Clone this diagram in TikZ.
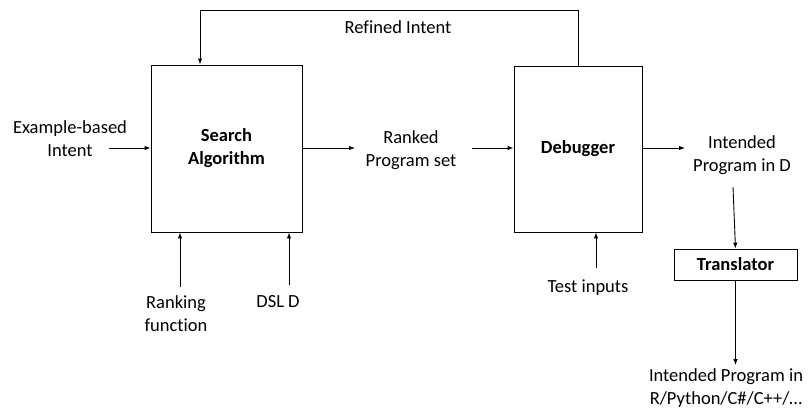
\documentclass[tikz,border=0pt]{standalone}
\usepackage{fontspec}
\setmainfont{Carlito}[Ligatures={NoCommon}]
\usetikzlibrary{arrows.meta,positioning,calc}

\begin{document}
\begin{tikzpicture}[x=1pt, y=-1pt, line width=0.9pt,
  font=\fontsize{18.5}{23}\selectfont,
  block/.style={draw, rectangle, font=\fontsize{18.5}{23}\selectfont\bfseries, align=center},
  txt/.style={align=center, inner sep=3pt},
  arr/.style={-{Latex[length=6pt,width=4.5pt]}}]
  \useasboundingbox (0,0) rectangle (809,408);
  % main blocks
  \node[block, minimum width=151pt, minimum height=167pt] (search) at (226.5,148.5) {Search\\ Algorithm};
  \node[block, minimum width=128pt, minimum height=166pt] (debug) at (578,149) {Debugger};
  \node[block, minimum width=123pt, minimum height=31pt, inner sep=2pt] (transl) at (735.5,264.5) {Translator};
  % labels
  \node[txt] (example) at (70,138.5) {Example-based\\ Intent};
  \node[txt] (ranked) at (411,150) {Ranked\\ Program set};
  \node[txt] (intended) at (742,155) {Intended\\ Program in D};
  \node[txt] (final) at (726,388) {Intended Program in\\ R/Python/C\#/C++/\dots};
  \node[txt] (rankfn) at (176,314) {Ranking\\ function};
  \node[txt] (dsl) at (278,302) {DSL D};
  \node[txt] (tests) at (588,288) {Test inputs};
  \node[txt] (refined) at (398,27) {Refined Intent};
  % free ends
  \coordinate (exin) at (109,148);
  \coordinate (rsout) at (472,148);
  \coordinate (trin) at (733,187);
  \coordinate (rkin) at (180,287);
  \coordinate (dslin) at (289,285);
  \coordinate (tstin) at (596,268);
  \coordinate (looptop) at (200,10);
  % connectors
  \draw[arr] (exin) -- (exin -| search.west);
  \draw[arr] (search.east |- exin) -- (355,148);
  \draw[arr] (rsout) -- (rsout -| debug.west);
  \draw[arr] (debug.east |- rsout) -- (685,148);
  \draw[arr] (trin) -- (transl.north);
  \draw[arr] (transl.south) -- (transl.south |- final.north);
  \draw[arr] (rkin) -- (rkin |- search.south);
  \draw[arr] (dslin) -- (dslin |- search.south);
  \draw[arr] (tstin) -- (tstin |- debug.south);
  \draw[arr] (debug.north) |- (looptop) -- (looptop |- search.north);
\end{tikzpicture}
\end{document}
